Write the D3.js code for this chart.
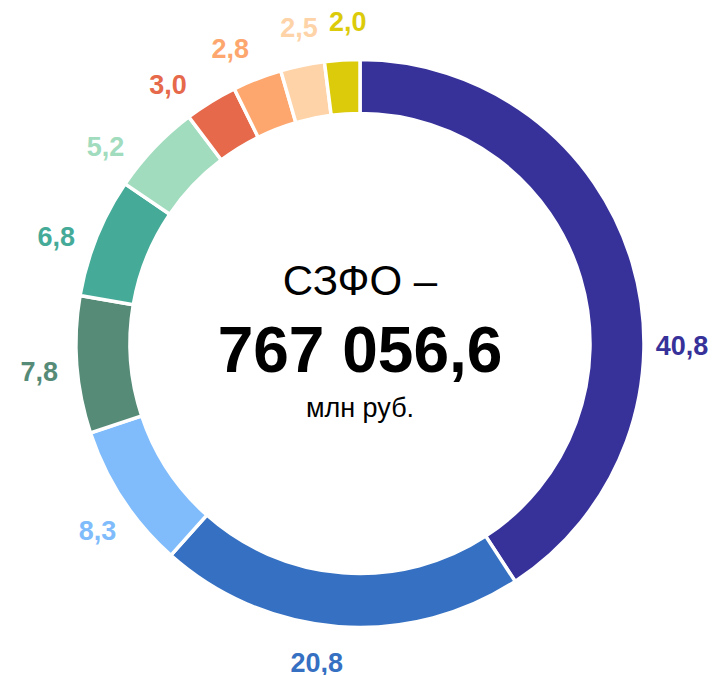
<!DOCTYPE html>
<html>
<head>
<meta charset="utf-8">
<script src="https://cdn.jsdelivr.net/npm/d3@7"></script>
<style>
  body { margin: 0; background: #fff; }
  text { font-family: "Liberation Sans", Arial, sans-serif; }
</style>
</head>
<body>
<div class="donut"></div>
<script>
const width = 718;
const height = 675;

// shares, %
const labels = ['40,8', '20,8', '8,3', '7,8', '6,8', '5,2', '3,0', '2,8', '2,5', '2,0'];
const values = [40.8, 20.8, 8.3, 7.8, 6.8, 5.2, 3.0, 2.8, 2.5, 2.0];
const colors = ['#37319a', '#3570c2', '#80bcfb', '#568b78', '#45ab98',
                '#a0dcbd', '#e5694a', '#fda76e', '#fed3a8', '#dccb0b'];
// manual nudge of label angle (deg), labels were hand placed in the original
const labelNudge = [17, 3.4, -2.1, -0.7, -2.6, -5.8, -4.9, -2.5, 0.8, 1.4];

const cx = 360, cy = 343.5;
const outerR = 284, innerR = 230, labelR = 322;

const svg = d3.select('.donut')
  .append('svg')
  .attr('width', width)
  .attr('height', height)

const g = svg.append('g')
  .attr('transform', 'translate(' + cx + ',' + cy + ')')

const pie = d3.pie().sort(null).value(d => d)
const arcs = pie(values)
const arc = d3.arc().innerRadius(innerR).outerRadius(outerR)

g.selectAll('.slice')
  .data(arcs)
  .enter()
  .append('path')
  .attr('class', 'slice')
  .attr('d', arc)
  .attr('fill', (d, i) => colors[i])
  .attr('stroke', '#fff')
  .attr('stroke-width', 3.5)
  .attr('stroke-linejoin', 'miter')

g.selectAll('.lbl')
  .data(arcs)
  .enter()
  .append('text')
  .attr('class', 'lbl')
  .attr('x', (d, i) => {
    const a = (d.startAngle + d.endAngle) / 2 + labelNudge[i] * Math.PI / 180
    return labelR * Math.sin(a)
  })
  .attr('y', (d, i) => {
    const a = (d.startAngle + d.endAngle) / 2 + labelNudge[i] * Math.PI / 180
    return -labelR * Math.cos(a) + 9.5
  })
  .attr('text-anchor', 'middle')
  .attr('font-size', 27)
  .attr('font-weight', 'bold')
  .attr('fill', (d, i) => colors[i])
  .text((d, i) => labels[i])

// centre caption
const title = ['СЗФО –', '767 056,6', 'млн руб.']
g.append('text')
  .attr('x', 0).attr('y', 295 - cy)
  .attr('text-anchor', 'middle')
  .attr('font-size', 42)
  .attr('fill', '#000')
  .text(title[0])
g.append('text')
  .attr('x', 0).attr('y', 372 - cy)
  .attr('text-anchor', 'middle')
  .attr('font-size', 64)
  .attr('font-weight', 'bold')
  .attr('fill', '#000')
  .text(title[1])
g.append('text')
  .attr('x', 0).attr('y', 417 - cy)
  .attr('text-anchor', 'middle')
  .attr('font-size', 27)
  .attr('fill', '#000')
  .text(title[2])
</script>
</body>
</html>
